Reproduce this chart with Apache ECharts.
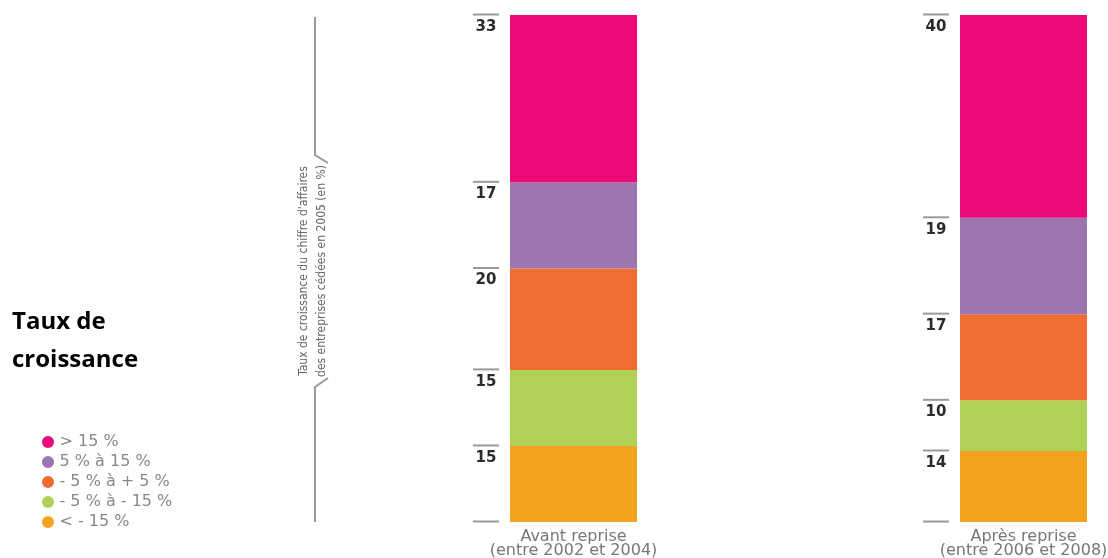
<!DOCTYPE html>
<html>
<head>
<meta charset="utf-8">
<script src="https://cdn.jsdelivr.net/npm/echarts@6/dist/echarts.min.js"></script>
<style>
html,body{margin:0;padding:0;background:#fff;}
#chart{width:1108px;height:558px;}
</style>
</head>
<body>
<div id="chart"></div>
<script>
// ---- data ----
const categories = ['Avant reprise\n(entre 2002 et 2004)', 'Après reprise\n(entre 2006 et 2008)'];
const seriesNames = ['> 15 %', '5 % à 15 %', '- 5 % à + 5 %', '- 5 % à - 15 %', '< - 15 %'];
const gt15 = [33, 40];
const from5to15 = [17, 19];
const fromM5toP5 = [20, 17];
const fromM5toM15 = [15, 10];
const ltM15 = [15, 14];
const titleLines = ['Taux de', 'croissance'];
const axisTitle = "Taux de croissance du chiffre d'affaires\ndes entreprises cédées en 2005 (en %)";

// ---- styles ----
const colors = {
  '> 15 %': '#EB0A78',
  '5 % à 15 %': '#9C75B1',
  '- 5 % à + 5 %': '#EF6C32',
  '- 5 % à - 15 %': '#AFD155',
  '< - 15 %': '#F5A21E'
};
const BAR_W = 127;

// stacking order bottom -> top
const stackOrder = [
  [seriesNames[4], ltM15],
  [seriesNames[3], fromM5toM15],
  [seriesNames[2], fromM5toP5],
  [seriesNames[1], from5to15],
  [seriesNames[0], gt15]
];

const barSeries = stackOrder.map(([name, vals]) => ({
  name: name,
  type: 'bar',
  stack: 'total',
  barWidth: BAR_W,
  clip: false,
  data: vals,
  itemStyle: { color: colors[name] },
  emphasis: { disabled: true },
  animation: false
}));

// tick marks + value labels at the top of each segment, and a bare tick at 0
const tickData = [];
categories.forEach((c, i) => {
  tickData.push([i, 0, '']);
  let cum = 0;
  stackOrder.forEach(([name, vals]) => {
    cum += vals[i];
    tickData.push([i, cum, String(vals[i])]);
  });
});

const tickSeries = {
  type: 'custom',
  silent: true,
  animation: false,
  clip: false,
  z: 10,
  data: tickData,
  renderItem: function (params, api) {
    const pt = api.coord([api.value(0), api.value(1)]);
    const left = pt[0] - BAR_W / 2;
    const label = tickData[params.dataIndex][2];
    const children = [{
      type: 'line',
      shape: { x1: left - 37, y1: pt[1] - 0.5, x2: left - 11, y2: pt[1] - 0.5 },
      style: { stroke: '#9a9a9a', lineWidth: 2 }
    }];
    if (label) {
      children.push({
        type: 'text',
        x: left - 24, y: pt[1] + 12,
        style: {
          text: label, align: 'center', verticalAlign: 'middle',
          font: 'bold 15px "DejaVu Sans", sans-serif', fill: '#2b2b2b'
        }
      });
    }
    return { type: 'group', children: children };
  }
};

const chart = echarts.init(document.getElementById('chart'));
chart.setOption({
  animation: false,
  backgroundColor: '#ffffff',
  grid: { left: 573.5, width: 450, top: 15, bottom: 36, containLabel: false, outerBoundsMode: 'none' },
  xAxis: {
    type: 'category',
    data: categories,
    boundaryGap: false,
    axisLine: { show: false },
    axisTick: { show: false },
    splitLine: { show: false },
    axisLabel: {
      margin: 8,
      color: '#777',
      fontFamily: 'DejaVu Sans',
      fontSize: 16,
      lineHeight: 14
    }
  },
  yAxis: { type: 'value', min: 0, max: 100, show: false },
  legend: {
    orient: 'vertical',
    left: 37,
    top: 429,
    icon: 'circle',
    itemWidth: 13,
    itemHeight: 12,
    itemGap: 4,
    selectedMode: false,
    data: seriesNames,
    textStyle: { fontFamily: 'DejaVu Sans', fontSize: 16, lineHeight: 15, color: '#888' }
  },
  graphic: [
    {
      type: 'text', x: 12, y: 322,
      style: { text: titleLines[0], verticalAlign: 'middle', font: 'bold 24px "Open Sans", sans-serif', fill: '#000' }
    },
    {
      type: 'text', x: 12, y: 360,
      style: { text: titleLines[1], verticalAlign: 'middle', font: 'bold 24px "Open Sans", sans-serif', fill: '#000' }
    },
    {
      type: 'polyline', shape: { points: [[315, 17], [315, 155], [328, 163]] },
      style: { stroke: '#999', lineWidth: 2, fill: null }
    },
    {
      type: 'polyline', shape: { points: [[328, 378], [315, 387], [315, 522]] },
      style: { stroke: '#999', lineWidth: 2, fill: null }
    },
    {
      type: 'text', x: 313, y: 271, rotation: Math.PI / 2,
      style: {
        text: axisTitle, align: 'center', verticalAlign: 'middle',
        font: '12px "Liberation Sans Narrow", "DejaVu Sans Condensed", sans-serif',
        lineHeight: 18, fill: '#666'
      }
    }
  ],
  series: barSeries.concat([tickSeries])
});
</script>
</body>
</html>
